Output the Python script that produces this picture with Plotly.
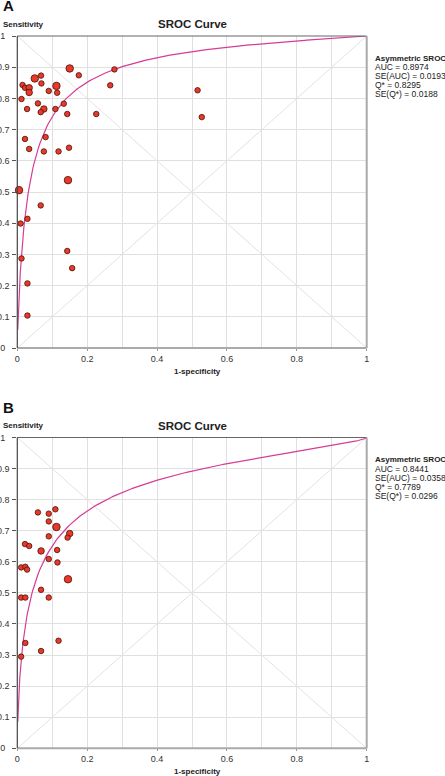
import numpy as np
import plotly.graph_objects as go

# ---------------- data ----------------
# Panel A study points (1-specificity, sensitivity, relative weight)
a_fpr = [0.005, 0.015, 0.022, 0.034, 0.034, 0.012, 0.028, 0.050, 0.068, 0.069,
         0.090, 0.112, 0.114, 0.059, 0.076, 0.067, 0.109, 0.133, 0.143, 0.150,
         0.176, 0.226, 0.266, 0.278, 0.516, 0.528, 0.022, 0.034, 0.081, 0.076,
         0.118, 0.148, 0.145, 0.067, 0.0095, 0.029, 0.012, 0.143, 0.157, 0.029,
         0.029]
a_sens = [0.506, 0.843, 0.834, 0.834, 0.819, 0.798, 0.766, 0.864, 0.873, 0.848,
          0.824, 0.840, 0.818, 0.784, 0.766, 0.756, 0.766, 0.783, 0.750, 0.896,
          0.874, 0.750, 0.842, 0.893, 0.826, 0.740, 0.670, 0.638, 0.676, 0.630,
          0.630, 0.642, 0.538, 0.457, 0.399, 0.414, 0.287, 0.311, 0.256, 0.207,
          0.104]
a_wt = [3, 1, 1, 2, 2, 1, 1, 3, 1, 1,
        1, 3, 1, 1, 2, 1, 1, 1, 1, 3,
        1, 1, 1, 1, 1, 1, 1, 1, 1, 1,
        1, 1, 3, 1, 1, 1, 1, 1, 1, 1,
        1]

# Panel B study points
b_fpr = [0.059, 0.090, 0.109, 0.090, 0.112, 0.150, 0.144, 0.090, 0.022, 0.034,
         0.068, 0.114, 0.090, 0.115, 0.011, 0.023, 0.028, 0.145, 0.068, 0.011,
         0.023, 0.090, 0.023, 0.118, 0.068, 0.011]
b_sens = [0.759, 0.755, 0.769, 0.730, 0.712, 0.691, 0.678, 0.682, 0.657, 0.651,
          0.635, 0.638, 0.609, 0.598, 0.582, 0.584, 0.575, 0.544, 0.510, 0.485,
          0.485, 0.485, 0.339, 0.346, 0.313, 0.295]
b_wt = [1, 1, 1, 1, 3, 2, 1, 1, 1, 1,
        2, 1, 1, 1, 1, 1, 1, 3, 1, 1,
        1, 1, 1, 1, 1, 1]

# Asymmetric SROC (Moses-Littenberg) parameters: intercept a, slope b
sroc_a = {"A": 3.164, "B": 2.518}
sroc_b = {"A": -0.075, "B": -0.193}

stats_A = ["AUC = 0.8974", "SE(AUC) = 0.0193", "Q* = 0.8295", "SE(Q*) = 0.0188"]
stats_B = ["AUC = 0.8441", "SE(AUC) = 0.0358", "Q* = 0.7789", "SE(Q*) = 0.0296"]

x_ticks = [0, 0.2, 0.4, 0.6, 0.8, 1]
y_ticks = [0, 0.1, 0.2, 0.3, 0.4, 0.5, 0.6, 0.7, 0.8, 0.9, 1]

# ---------------- layout geometry ----------------
W, H = 445, 776
X0, X1 = 17.3, 366.7
panels = {"A": (36.0, 348.0), "B": (437.5, 748.3)}

FONT = "Liberation Sans, Arial, sans-serif"
MARK = "#e8392b"
MARK_LINE = "#4a1208"
CURVE = "#d63c96"
GRID = "#e0e0e0"
DIAG = "#e2e2e2"

fig = go.Figure()


def sroc(fpr, a, b):
    lf = np.log(fpr / (1 - fpr))
    ls = (a + (1 + b) * lf) / (1 - b)
    return 1 / (1 + np.exp(-ls))


def ylab(v):
    s = f"{v:g}"
    # integer labels are centred like the decimals in the original
    return s + "\u00a0\u2009" if "." not in s else s


size_map = {1: 5.5, 2: 6.5, 3: 7.5}

for i, (key, fpr, sens, wt) in enumerate([("A", a_fpr, a_sens, a_wt), ("B", b_fpr, b_sens, b_wt)]):
    xa = "x" if i == 0 else "x2"
    ya = "y" if i == 0 else "y2"
    # diagonals
    fig.add_trace(go.Scatter(x=[0, 1], y=[0, 1], mode="lines", xaxis=xa, yaxis=ya,
                             line=dict(color=DIAG, width=1), showlegend=False, hoverinfo="skip"))
    fig.add_trace(go.Scatter(x=[0, 1], y=[1, 0], mode="lines", xaxis=xa, yaxis=ya,
                             line=dict(color=DIAG, width=1), showlegend=False, hoverinfo="skip"))
    # SROC curve
    xs = np.concatenate([np.geomspace(0.0013, 0.05, 60), np.linspace(0.05, 0.9999, 200)])
    fig.add_trace(go.Scatter(x=xs, y=sroc(xs, sroc_a[key], sroc_b[key]), mode="lines",
                             xaxis=xa, yaxis=ya, line=dict(color=CURVE, width=1.2),
                             showlegend=False, hoverinfo="skip"))
    # study points
    fig.add_trace(go.Scatter(x=fpr, y=sens, mode="markers", xaxis=xa, yaxis=ya,
                             marker=dict(color=MARK, opacity=1, size=[size_map[w] for w in wt],
                                         line=dict(color=MARK_LINE, width=0.8)),
                             cliponaxis=False, showlegend=False))

layout = dict(
    width=W, height=H, margin=dict(l=0, r=0, t=0, b=0, autoexpand=False),
    paper_bgcolor="white", plot_bgcolor="white",
    font=dict(family=FONT, size=9, color="#333"),
    showlegend=False,
)

for i, key in enumerate(["A", "B"]):
    top, bot = panels[key]
    xname = "xaxis" if i == 0 else "xaxis2"
    yname = "yaxis" if i == 0 else "yaxis2"
    yref = "y" if i == 0 else "y2"
    xref = "x" if i == 0 else "x2"
    layout[xname] = dict(
        domain=[X0 / W, X1 / W], range=[0, 1], anchor=yref, automargin=False,
        tickvals=x_ticks, ticktext=[f"{v:g}" for v in x_ticks],
        showgrid=True, gridcolor=GRID, gridwidth=1,
        minor=dict(dtick=0.1, showgrid=True, gridcolor=GRID, gridwidth=1),
        zeroline=False, showline=False,
        ticks="outside", ticklen=2, tickcolor="#999", tickwidth=1,
        tickfont=dict(size=9, color="#333", family=FONT),
        fixedrange=True,
    )
    layout[yname] = dict(
        domain=[1 - bot / H, 1 - top / H], range=[0, 1], anchor=xref, automargin=False,
        tickvals=y_ticks, ticktext=[ylab(v) for v in y_ticks],
        showgrid=True, gridcolor=GRID, gridwidth=1,
        zeroline=False, showline=False,
        ticks="outside", ticklen=4, tickcolor="#555", tickwidth=1,
        ticklabelstandoff=1,
        tickfont=dict(size=9, color="#333", family=FONT),
        fixedrange=True,
    )

fig.update_layout(**layout)

shapes = []
annotations = []
for i, key in enumerate(["A", "B"]):
    top, bot = panels[key]
    xd = ("x" if i == 0 else "x2") + " domain"
    yd = ("y" if i == 0 else "y2") + " domain"
    # frame
    shapes += [
        dict(type="line", xref=xd, yref=yd, x0=0, x1=1, y0=1, y1=1, line=dict(color="#666", width=1.2)),
        dict(type="line", xref=xd, yref=yd, x0=1, x1=1, y0=0, y1=1, line=dict(color="#aaa", width=2)),
        dict(type="line", xref=xd, yref=yd, x0=0, x1=1, y0=0, y1=0, line=dict(color="#aaa", width=2)),
        dict(type="line", xref=xd, yref=yd, x0=0, x1=0, y0=0, y1=1, line=dict(color="#444", width=1.2)),
    ]
    # panel letter
    annotations.append(dict(text=f"<b>{key}</b>", x=1 / W, y=1 - (top - 30) / H, xref="paper", yref="paper",
                            xanchor="left", yanchor="middle", showarrow=False,
                            font=dict(size=15, color="#111", family=FONT)))
    # title
    annotations.append(dict(text="<b>SROC Curve</b>", x=(X0 + X1) / 2 / W, y=1 - (top - 12) / H,
                            xref="paper", yref="paper", xanchor="center", yanchor="middle",
                            showarrow=False, font=dict(size=11.5, color="#222", family=FONT)))
    # y label
    annotations.append(dict(text="<b>Sensitivity</b>", x=1 / W, y=1 - (top - 12) / H,
                            xref="paper", yref="paper", xanchor="left", yanchor="middle",
                            showarrow=False, font=dict(size=8, color="#222", family=FONT)))
    # x label
    annotations.append(dict(text="<b>1-specificity</b>", x=197 / W, y=1 - (bot + 23) / H,
                            xref="paper", yref="paper", xanchor="center", yanchor="middle",
                            showarrow=False, font=dict(size=8, color="#222", family=FONT)))
    # stats block
    stats = stats_A if key == "A" else stats_B
    lines = ["<b>Asymmetric SROC</b>"] + stats
    for j, t in enumerate(lines):
        annotations.append(dict(text=t, x=373.5 / W, y=1 - (top + 22.3 + 9 * j) / H,
                                xref="paper", yref="paper", xanchor="left", yanchor="middle",
                                showarrow=False, borderpad=0,
                                font=dict(size=8 if j == 0 else 8.5, color="#222", family=FONT)))

fig.update_layout(shapes=shapes, annotations=annotations)
fig.write_html(
    "out.html",
    config={"displayModeBar": False},
    post_script="document.body.style.margin='0';document.body.style.padding='0';"
                "document.documentElement.style.overflow='hidden';document.body.style.overflow='hidden';",
)
